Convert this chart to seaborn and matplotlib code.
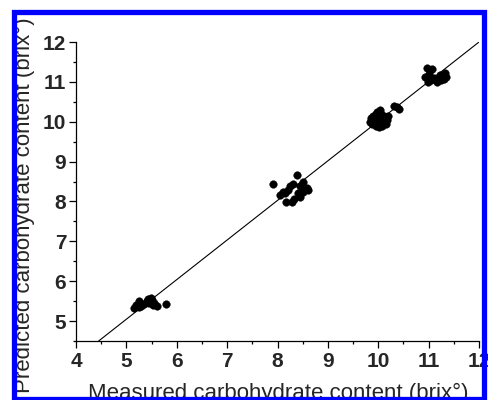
import matplotlib
matplotlib.use("Agg")
import matplotlib.pyplot as plt
from matplotlib.patches import Rectangle
from matplotlib.ticker import MultipleLocator
import seaborn as sns
import pandas as pd

measured = [5.15, 5.20, 5.25, 5.25, 5.30, 5.35, 5.40, 5.42, 5.45, 5.48, 5.50, 5.52, 5.55, 5.60, 5.78,
            7.91, 8.38, 8.17, 8.28, 8.05, 8.58, 8.51, 8.31, 8.41, 8.21, 8.10, 8.44, 8.60, 8.25, 8.45, 8.15, 8.50, 8.32,
            9.83, 9.85, 9.88, 9.90, 9.92, 9.95, 9.95, 9.98, 10.00, 10.00, 10.03, 10.05, 10.05, 10.08, 10.10, 10.12,
            10.15, 10.18, 10.20, 9.97, 10.02, 10.32, 10.37, 10.42,
            10.96, 11.06, 10.99, 11.16, 11.32, 11.35, 11.22, 10.92, 11.10, 11.00, 11.25, 11.05, 11.30]
predicted = [5.33, 5.40, 5.50, 5.35, 5.38, 5.42, 5.50, 5.55, 5.45, 5.58, 5.52, 5.40, 5.45, 5.38, 5.42,
             8.43, 8.66, 7.98, 7.99, 8.16, 8.33, 8.49, 8.45, 8.20, 8.28, 8.25, 8.12, 8.28, 8.40, 8.40, 8.20, 8.25, 8.05,
             10.00, 10.10, 9.95, 10.15, 10.05, 9.90, 10.20, 10.00, 10.10, 9.92, 10.30, 10.00, 10.20, 9.90, 10.05, 10.15,
             9.95, 10.05, 10.15, 10.25, 9.88, 10.40, 10.36, 10.32,
             11.36, 11.33, 11.00, 11.00, 11.21, 11.12, 11.17, 11.12, 11.10, 11.20, 11.05, 11.05, 11.08]
fit_x = [4.45, 12.0]
fit_y = [4.50, 12.0]
x_ticks = [4, 5, 6, 7, 8, 9, 10, 11, 12]
y_ticks = [5, 6, 7, 8, 9, 10, 11, 12]

sns.set_style("ticks")
plt.rcParams['font.family'] = ['Liberation Sans', 'DejaVu Sans']

fig = plt.figure(figsize=(4.88, 4.00), dpi=100)
ax = fig.add_axes([0.1557, 0.1475, 0.8259, 0.7475])

df = pd.DataFrame({"m": measured, "p": predicted})
sns.lineplot(x=fit_x, y=fit_y, ax=ax, color="black", linewidth=0.8)
sns.scatterplot(data=df, x="m", y="p", ax=ax, color="black", s=30, edgecolor="black", linewidth=0.3, zorder=3)

ax.set_xlim(4, 12)
ax.set_ylim(4.5, 12)
ax.set_xticks(x_ticks)
ax.set_yticks(y_ticks)
ax.xaxis.set_minor_locator(MultipleLocator(0.5))
ax.yaxis.set_minor_locator(MultipleLocator(0.5))
ax.set_xticklabels([str(t) for t in x_ticks], fontsize=15, fontweight="bold")
ax.set_yticklabels([str(t) for t in y_ticks], fontsize=15, fontweight="bold")
ax.tick_params(which="major", direction="out", length=5, width=0.9, color="black", pad=2)
ax.tick_params(axis="x", which="major", pad=3)
ax.tick_params(which="minor", direction="out", length=2.5, width=0.9, color="black")
for s in ["top", "right"]:
    ax.spines[s].set_visible(False)
for s in ["left", "bottom"]:
    ax.spines[s].set_linewidth(0.9)
    ax.spines[s].set_color("black")

ax.set_xlabel("Measured carbohydrate content (brix°)", fontsize=16)
ax.set_ylabel("Predicted carbohydrate content (brix°)", fontsize=16)
ax.xaxis.set_label_coords(0.501, -0.14)
ax.yaxis.set_label_coords(-0.102, 0.455)

fig.add_artist(Rectangle((0.0287, 0.0025), 0.9641, 0.9675, transform=fig.transFigure,
                         fill=False, edgecolor="#0000ff", linewidth=3.8, zorder=10))

fig.savefig("out.png", dpi=100, facecolor="white")
